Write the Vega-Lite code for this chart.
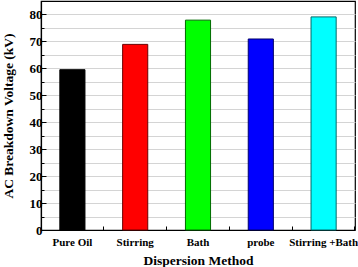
{
  "$schema": "https://vega.github.io/schema/vega-lite/v6.json",
  "width": 314,
  "height": 229,
  "autosize": {"type": "none"},
  "padding": {"left": 41, "top": 1, "right": 3, "bottom": 37},
  "background": "white",
  "config": {
    "font": "Liberation Serif",
    "view": {"stroke": "black", "strokeWidth": 1.2},
    "axis": {"domainColor": "black", "tickColor": "black", "labelColor": "black", "titleColor": "black", "labelFontWeight": "bold", "titleFontWeight": "bold", "labelFont": "Liberation Serif", "titleFont": "Liberation Serif"}
  },
  "data": {
    "values": [
      {"method": "Pure Oil", "voltage": 59.5},
      {"method": "Stirring", "voltage": 68.9},
      {"method": "Bath", "voltage": 77.9},
      {"method": "probe", "voltage": 70.9},
      {"method": "Stirring +Bath", "voltage": 79.1}
    ]
  },
  "encoding": {
    "y": {
      "field": "voltage", "type": "quantitative",
      "scale": {"domain": [0, 85], "nice": false},
      "axis": {"title": "AC Breakdown Voltage (kV)", "titleFontSize": 13.5, "labelFontSize": 13, "values": [0,5,10,15,20,25,30,35,40,45,50,55,60,65,70,75,80], "labelExpr": "datum.value % 10 === 0 ? datum.label : ''", "tickSize": {"condition": {"test": "datum.value % 10 === 0", "value": -5}, "value": -3}, "labelPadding": 4, "grid": true, "gridColor": "#d4d4d4", "gridWidth": 1, "titlePadding": 14, "domainWidth": 1.2}
    }
  },
  "layer": [
    {
      "mark": {"type": "bar", "strokeWidth": 1},
      "encoding": {
        "x": {
          "field": "method", "type": "nominal", "sort": null,
          "scale": {"paddingInner": 0.6, "paddingOuter": 0.3},
          "axis": {"title": "Dispersion Method", "titleFontSize": 13.5, "labelFontSize": 11, "labelAngle": 0, "labelBound": false, "tickSize": -4, "labelPadding": 10, "titlePadding": 6, "domainWidth": 1.2}
        },
        "color": {
          "field": "method", "type": "nominal", "sort": null, "legend": null,
          "scale": {"domain": ["Pure Oil", "Stirring", "Bath", "probe", "Stirring +Bath"], "range": ["#000000", "#ff0000", "#00ff00", "#0000ff", "#00ffff"]}
        },
        "stroke": {
          "field": "method", "type": "nominal", "sort": null, "legend": null,
          "scale": {"domain": ["Pure Oil", "Stirring", "Bath", "probe", "Stirring +Bath"], "range": ["#000000", "#6a0000", "#006a00", "#00006a", "#006a6a"]}
        }
      }
    },
    {
      "mark": {"type": "bar", "opacity": 0},
      "encoding": {
        "x": {
          "field": "method", "type": "nominal", "sort": null,
          "axis": {"orient": "bottom", "title": null, "labels": false, "domain": false, "ticks": true, "tickSize": -4, "tickWidth": 1, "bandPosition": 1.75}
        }
      }
    }
  ],
  "resolve": {"axis": {"x": "independent"}}
}
